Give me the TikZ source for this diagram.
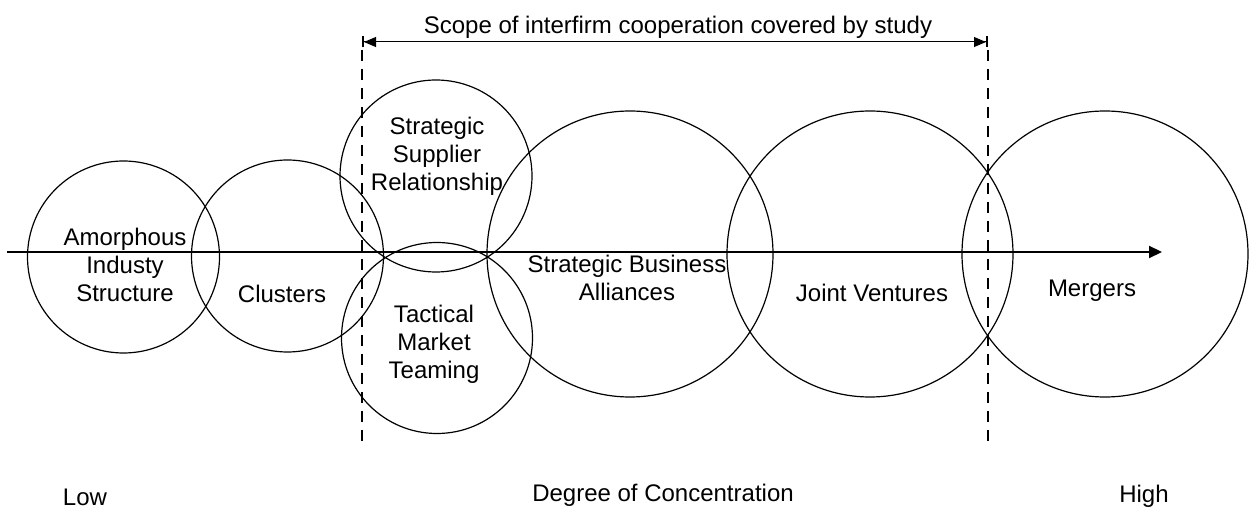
\documentclass[tikz,border=0pt]{standalone}
\usepackage{fontspec}
\setmainfont{Liberation Sans}
\usetikzlibrary{arrows.meta}
\begin{document}
\begin{tikzpicture}[x=1pt,y=-1pt,
  lbl/.style={font=\fontsize{24}{28}\selectfont, inner sep=0pt, align=center},
  ring/.style={circle, draw, line width=1.2pt, inner sep=0pt, minimum size=#1},
  axisline/.style={line width=2.2pt, -{Triangle[length=13pt,width=12pt]}},
  boundary/.style={line width=2.6pt, dash pattern=on 11pt off 8pt},
  span/.style={line width=1pt,
    {Bar[width=11pt,line width=2pt]Triangle[length=12pt,width=10pt]}-{Triangle[length=12pt,width=10pt]Bar[width=11pt,line width=2pt]}}
]
\useasboundingbox[fill=white] (0,0) rectangle (1251,518);

% forms of interfirm cooperation
\node[ring=192pt] (amorph) at (123.5,257) {};
\node[ring=192pt] (clust)  at (287.5,256) {};
\node[ring=192pt] (supp)   at (436,176) {};
\node[ring=191pt] (team)   at (437,338) {};
\node[ring=286pt] (alli)   at (630,254) {};
\node[ring=286pt] (jv)     at (870,254) {};
\node[ring=286pt] (merg)   at (1105,254) {};

% concentration axis
\coordinate (axisL) at (7,252);
\coordinate (axisR) at (1162,252);
\draw[axisline] (axisL) -- (axisR);

% limits of the study
\coordinate (limLt) at (362,50);
\coordinate (limLb) at (362,447);
\coordinate (limRt) at (988,50);
\coordinate (limRb) at (988,447);
\draw[boundary] (limLt) -- (limLb);
\draw[boundary] (limRt) -- (limRb);

\coordinate (spanL) at (362,42);
\coordinate (spanR) at (988,42);
\draw[span] (spanL) -- (spanR);
\node[lbl, anchor=base] (scope) at (678,34) {Scope of interfirm cooperation covered by study};

% circle labels
\node[lbl] (tAmorph) at (125,264.6) {Amorphous\\Industy\\Structure};
\node[lbl, anchor=base] (tClust) at (282,303) {Clusters};
\node[lbl] (tSupp) at (437,155.8) {Strategic\\Supplier\\Relationship};
\node[lbl] (tTeam) at (434,343.9) {Tactical\\Market\\Teaming};
\node[lbl] (tAlli) at (627,278.4) {Strategic Business\\Alliances};
\node[lbl, anchor=base] (tJv) at (872,301.7) {Joint Ventures};
\node[lbl, anchor=base] (tMerg) at (1092,296.7) {Mergers};

% scale labels
\node[lbl, anchor=base] (low) at (85,506) {Low};
\node[lbl, anchor=base] (degree) at (663,502) {Degree of Concentration};
\node[lbl, anchor=base] (high) at (1144,503) {High};
\end{tikzpicture}
\end{document}
